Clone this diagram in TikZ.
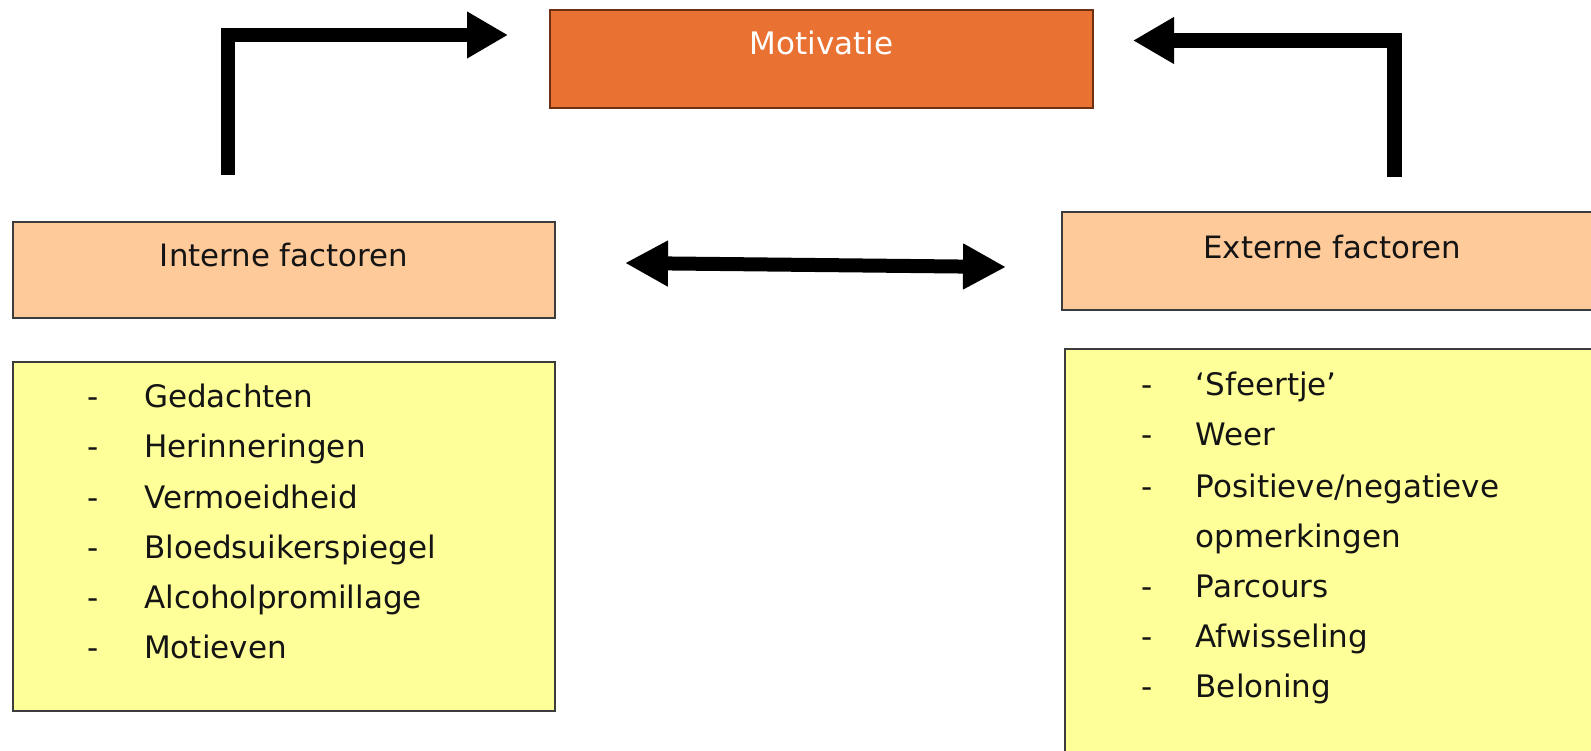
\documentclass[tikz,border=0pt]{standalone}
\usepackage{fontspec}
\setmainfont{DejaVu Sans}
\usetikzlibrary{arrows.meta}
\definecolor{motfill}{RGB}{233,113,50}
\definecolor{motdraw}{RGB}{110,48,18}
\definecolor{peach}{RGB}{255,202,153}
\definecolor{lyellow}{RGB}{255,255,153}
\definecolor{boxline}{RGB}{60,60,60}
\definecolor{txt}{RGB}{20,20,20}
\begin{document}
\begin{tikzpicture}[x=1pt,y=-1pt,
  box/.style={rectangle, draw=boxline, line width=2pt, inner sep=0pt, text=txt},
  headbox/.style={box, fill=peach, font=\fontsize{30.8}{36}\selectfont, text height=23pt},
  listbox/.style={box, fill=lyellow},
  item/.style={inner sep=0pt, anchor=base west, text=txt, font=\fontsize{31}{36}\selectfont},
  bigarrow/.style={line width=14pt, line join=miter, -{Triangle[length=41pt,width=44pt]}},
  dblarrow/.style={line width=14pt, {Triangle[length=43pt,width=43pt]}-{Triangle[length=43pt,width=43pt]}}
]
\useasboundingbox (0,0) rectangle (1591,750);

% main boxes
\node[box, fill=motfill, draw=motdraw, text=white, minimum width=543pt, minimum height=98pt,
      font=\fontsize{31}{36}\selectfont, text height=22pt, text depth=32pt] (mot) at (821.5,59) {Motivatie};
\node[headbox, minimum width=542pt, minimum height=96pt, text depth=31pt] (int) at (284,270) {Interne factoren};
\node[headbox, minimum width=540pt, minimum height=98pt, text depth=29pt] (ext) at (1332,261) {Externe factoren};

% list boxes
\node[listbox, minimum width=542pt, minimum height=349pt] (intlist) at (284,536.5) {};
\node[listbox, minimum width=540pt, minimum height=416pt] (extlist) at (1335,557) {};

% internal factors
\node[item] (i1) at (87,407) {\makebox[57pt][l]{-}Gedachten};
\node[item] (i2) at (87,457) {\makebox[57pt][l]{-}Herinneringen};
\node[item] (i3) at (87,508) {\makebox[57pt][l]{-}Vermoeidheid};
\node[item] (i4) at (87,558) {\makebox[57pt][l]{-}Bloedsuikerspiegel};
\node[item] (i5) at (87,608) {\makebox[57pt][l]{-}Alcoholpromillage};
\node[item] (i6) at (87,658) {\makebox[57pt][l]{-}Motieven};

% external factors
\node[item] (e1) at (1141,395) {\makebox[54.5pt][l]{-}‘Sfeertje’};
\node[item] (e2) at (1141,445) {\makebox[54.5pt][l]{-}Weer};
\node[item] (e3) at (1141,497) {\makebox[54.5pt][l]{-}Positieve/negatieve};
\node[item] (e3b) at (1195.5,547) {opmerkingen};
\node[item] (e4) at (1141,597) {\makebox[54.5pt][l]{-}Parcours};
\node[item] (e5) at (1141,647) {\makebox[54.5pt][l]{-}Afwisseling};
\node[item] (e6) at (1141,697) {\makebox[54.5pt][l]{-}Beloning};

% arrows
\coordinate (lA) at (228,175);
\coordinate (lB) at (508,35);
\draw[bigarrow] (lA) |- (lB);

\coordinate (rA) at (1394.5,177);
\coordinate (rB) at (1133,40.5);
\draw[bigarrow, line width=15pt] (rA) |- (rB);

\coordinate (dA) at (625,263);
\coordinate (dB) at (1006,267);
\draw[dblarrow] (dA) -- (dB);
\end{tikzpicture}
\end{document}
